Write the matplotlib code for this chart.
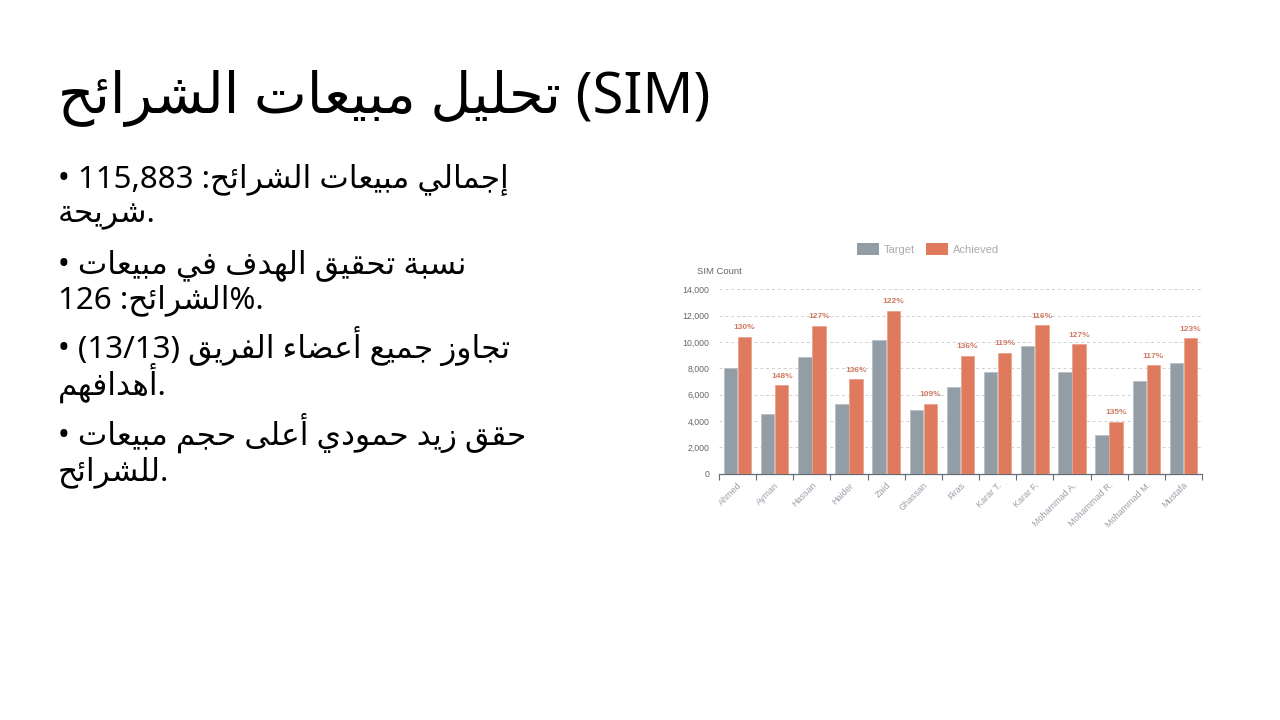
import matplotlib
matplotlib.use("Agg")
import matplotlib.pyplot as plt
from matplotlib.patches import Patch
import numpy as np

# SIM sales per rep
names = ["Ahmed", "Ayman", "Hassan", "Haider", "Zaid", "Ghassan", "Firas",
         "Karar T.", "Karar F.", "Mohammad A.", "Mohammad R.", "Mohammad M.", "Mustafa"]
target = [8000, 4550, 8860, 5270, 10130, 4860, 6580, 7720, 9720, 7720, 2920, 7040, 8380]
achieved = [10400, 6730, 11240, 7170, 12350, 5290, 8940, 9190, 11270, 9820, 3930, 8230, 10280]
pct_labels = ["130%", "148%", "127%", "136%", "122%", "109%", "136%",
              "119%", "116%", "127%", "135%", "117%", "123%"]
yticks = [0, 2000, 4000, 6000, 8000, 10000, 12000, 14000]

# --- minimal arabic shaping (matplotlib does not join letters or do RTL) ---
_letters = "ءآأؤإئابةتثجحخدذرزسشصضطظعغفقكلمنهوىي"
_nforms = [1, 2, 2, 2, 2, 4, 2, 4, 2, 4, 4, 4, 4, 4, 2, 2, 2, 2, 4, 4,
           4, 4, 4, 4, 4, 4, 4, 4, 4, 4, 4, 4, 4, 2, 2, 4]
FORMS = {}
_code = 0xFE80
for ch, n in zip(_letters, _nforms):
    FORMS[ch] = (_code, n)
    _code += n


def shape(word):
    out = []
    for i, ch in enumerate(word):
        if ch not in FORMS:
            out.append(ch)
            continue
        base, n = FORMS[ch]
        prev = word[i - 1] if i > 0 else ""
        nxt = word[i + 1] if i + 1 < len(word) else ""
        jp = prev in FORMS and FORMS[prev][1] == 4
        jn = n == 4 and nxt in FORMS
        idx = 3 if (jp and jn) else 1 if jp else 2 if jn else 0
        out.append(chr(base + idx))
    return "".join(out)


def rtl(text):
    return " ".join(shape(w)[::-1] for w in text.split()[::-1])


fig = plt.figure(figsize=(12.8, 7.2), dpi=100)
fig.patch.set_facecolor("white")

txt_font = ["Noto Sans", "DejaVu Sans"]

def px(x, y):
    return x / 1280, 1 - y / 720

# title
fig.text(*px(58, 112), rtl("تحليل مبيعات الشرائح") + " (SIM)",
         fontsize=40.5, family=txt_font, color="black", va="baseline", ha="left")

lines = [
    ("• 115,883 :" + rtl("إجمالي مبيعات الشرائح"), 187),
    (rtl("شريحة") + ".", 222),
    ("• " + rtl("نسبة تحقيق الهدف في مبيعات"), 273),
    ("126 :" + rtl("الشرائح") + "%.", 308),
    ("• (13/13) " + rtl("تجاوز جميع أعضاء الفريق"), 358),
    (rtl("أهدافهم") + ".", 395),
    ("• " + rtl("حقق زيد حمودي أعلى حجم مبيعات"), 445),
    (rtl("للشرائح") + ".", 480),
]
for s, y in lines:
    fig.text(*px(58, y), s, fontsize=22.5, family=txt_font, color="black",
             va="baseline", ha="left")

# --- chart ---
gray = "#939da6"
orange = "#e07a5f"
ax = fig.add_axes([719 / 1280, 1 - 473.7 / 720, 483 / 1280, 184.4 / 720])
x = np.arange(len(names))
w = 0.36
ax.bar(x - w / 2 - 0.01, target, w, color=gray, edgecolor="#b9c0c6", linewidth=0.6, zorder=3)
bars = ax.bar(x + w / 2 + 0.01, achieved, w, color=orange, edgecolor="#eca38f", linewidth=0.6, zorder=3)
for b, lab in zip(bars, pct_labels):
    ax.annotate(lab, (b.get_x() + b.get_width() / 2, b.get_height()),
                xytext=(0, 4), textcoords="offset points", ha="center", va="bottom",
                fontsize=6, color="#cf7b63", family="Liberation Sans", fontweight="bold")

ax.set_xlim(-0.5, len(names) - 0.5)
ax.set_ylim(0, 14000)
ax.set_yticks(yticks)
ax.set_yticklabels([f"{v:,}" for v in yticks], fontsize=6.3, color="#666666", family="Liberation Sans")
ax.tick_params(axis="y", length=0, pad=7)
ax.set_xticks(x)
ax.set_xticklabels(names, rotation=45, ha="right", rotation_mode="anchor",
                   fontsize=6.5, color="#9aa0a8", family="Liberation Sans")
ax.tick_params(axis="x", length=0, pad=5)
ax.set_xticks(np.arange(-0.5, len(names)), minor=True)
ax.tick_params(axis="x", which="minor", length=4, color="#666d75", width=0.8)
ax.grid(axis="y", linestyle=(0, (3, 3)), color="#d0d0d0", linewidth=0.7, zorder=0)
for side in ["left", "right", "top"]:
    ax.spines[side].set_visible(False)
ax.spines["bottom"].set_color("#666d75")
ax.spines["bottom"].set_linewidth(0.9)
ax.set_facecolor("white")

fig.text(*px(697, 271), "SIM Count", fontsize=6.8, color="#666666",
         family="Liberation Sans", va="center", ha="left")

handles = [Patch(facecolor=gray, edgecolor="none", label="Target"),
           Patch(facecolor=orange, edgecolor="none", label="Achieved")]
fig.legend(handles=handles, loc="center", bbox_to_anchor=px(928, 249), ncol=2,
           frameon=False, labelcolor="#aaaaaa", handlelength=2.0,
           handleheight=1.3, columnspacing=1.0, handletextpad=0.4,
           prop={"family": "Liberation Sans", "size": 8})

fig.savefig("out.png", dpi=100)
